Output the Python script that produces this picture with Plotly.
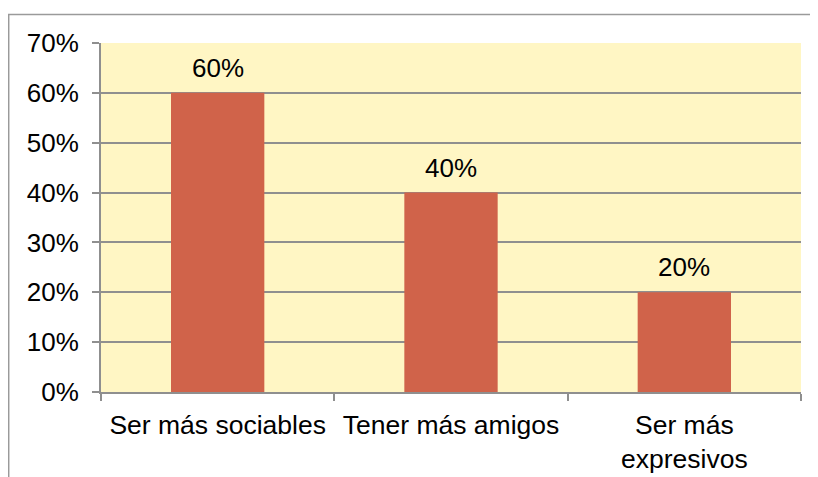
import plotly.graph_objects as go

categories = ["Ser más sociables", "Tener más amigos", "Ser más expresivos"]
tick_labels = ["Ser más sociables", "Tener más amigos", "Ser más<br>expresivos"]
values = [60, 40, 20]
y_ticks = [0, 10, 20, 30, 40, 50, 60, 70]
y_tick_labels = [f"{v}%" for v in y_ticks]

# the page body has an 8px margin; design in window coords then offset
OFF = 8
W, H = 818 - OFF, 477 - OFF
L, R, T, B = 101 - OFF, 17, 42.5 - OFF, 84.5
pw, ph = W - L - R, H - T - B

FONT = "Liberation Sans, Arial, sans-serif"
GRID = "#8f8f8f"

fig = go.Figure()
fig.add_trace(go.Bar(
    x=categories, y=values,
    marker=dict(color="#D0634A", line=dict(width=0)),
    hoverinfo="skip",
))

for c, v in zip(categories, values):
    fig.add_annotation(x=c, y=v, text=f"{v}%", showarrow=False,
                       yanchor="bottom", yshift=8,
                       font=dict(family=FONT, size=26, color="#000000"))

# outer chart frame (partially cropped)
fx = (8 - OFF - L) / pw
fy = (H - B - (14 - OFF)) / ph
fig.add_shape(type="line", xref="paper", yref="paper", x0=fx + 0.001, x1=fx + 0.001, y0=fy, y1=-1,
              line=dict(color="#9a9a9a", width=1.5))
fig.add_shape(type="line", xref="paper", yref="paper", x0=fx, x1=2, y0=fy, y1=fy,
              line=dict(color="#9a9a9a", width=1.5))

fig.update_layout(
    width=W, height=H,
    margin=dict(l=L, r=R, t=T, b=B, pad=0, autoexpand=False),
    paper_bgcolor="#ffffff",
    plot_bgcolor="#FFF6C4",
    bargap=0.6,
    showlegend=False,
    font=dict(family=FONT, size=26, color="#000000"),
    xaxis=dict(
        tickmode="array", tickvals=categories, ticktext=tick_labels,
        tickson="boundaries", ticks="outside", ticklen=7, tickwidth=1.5, tickcolor=GRID,
        showline=True, linecolor=GRID, linewidth=2,
        showgrid=False, zeroline=False,
        tickfont=dict(family=FONT, size=26.5, color="#000000"),
        ticklabelstandoff=8,
        automargin=False,
        fixedrange=True,
    ),
    yaxis=dict(
        range=[0, 70], tickmode="array", tickvals=y_ticks, ticktext=y_tick_labels,
        ticks="outside", ticklen=7, tickwidth=1.5, tickcolor=GRID,
        showline=True, linecolor=GRID, linewidth=2,
        showgrid=True, gridcolor=GRID, gridwidth=2,
        zeroline=False,
        tickfont=dict(family=FONT, size=26, color="#000000"),
        ticklabelstandoff=8,
        automargin=False,
        fixedrange=True,
    ),
)

fig.write_html("out.html")
